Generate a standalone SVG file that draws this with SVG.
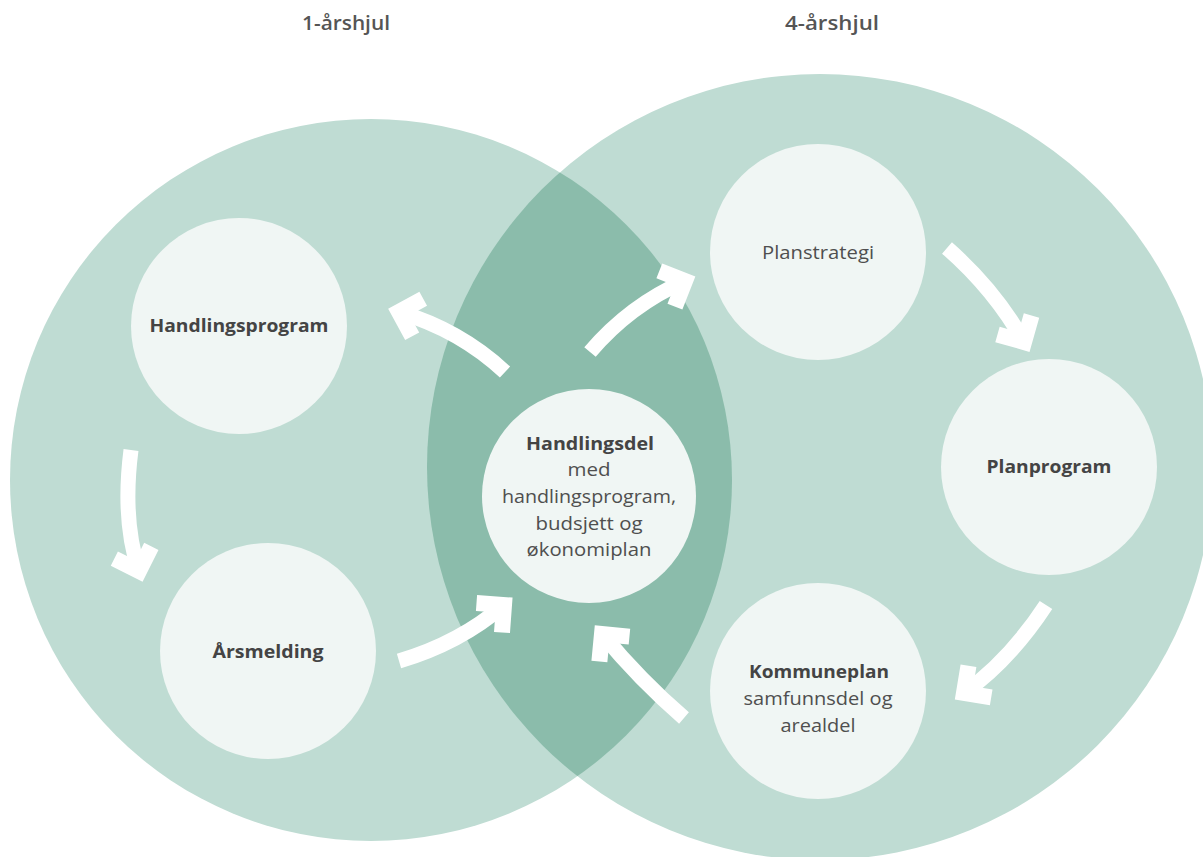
<svg xmlns="http://www.w3.org/2000/svg" width="1203" height="857" viewBox="0 0 1203 857">
<style>
.big{fill:#bfdcd3}
.lens{fill:#8bbcab}
.node{fill:#f0f6f4}
text{font-family:"Open Sans","Noto Sans","Liberation Sans",sans-serif;font-size:18px;fill:#4f4f4f;text-anchor:middle}
.b{font-weight:700;fill:#444}
.title{font-size:19px;font-weight:600;fill:#555}
.arr{fill:none;stroke:#fff;stroke-width:15;stroke-linecap:butt;marker-end:url(#ah)}
</style>
<defs>
<marker id="ah" markerUnits="userSpaceOnUse" orient="auto" markerWidth="80" markerHeight="80" viewBox="-40 -40 80 80" refX="0" refY="0" overflow="visible">
<polyline points="-19.5,-19.5 0,0 -19.5,19.5" fill="none" stroke="#fff" stroke-width="16" stroke-linejoin="miter"/>
</marker>
<clipPath id="clipL"><circle cx="371" cy="480" r="361"/></clipPath>
</defs>
<rect width="1203" height="857" fill="#fff"/>
<g id="wheel1"><circle class="big" cx="371" cy="480" r="361"/></g>
<g id="wheel4"><circle class="big" cx="820" cy="467" r="393"/></g>
<g id="overlap"><circle class="lens" cx="820" cy="467" r="393" clip-path="url(#clipL)"/></g>
<text class="title" x="346" y="30" textLength="88" lengthAdjust="spacingAndGlyphs">1-årshjul</text>
<text class="title" x="832" y="30" textLength="94" lengthAdjust="spacingAndGlyphs">4-årshjul</text>
<g id="connectors">
<path class="arr" d="M505,372 Q460,330 399,312"/>
<path class="arr" d="M590,352 Q630,305 685,281"/>
<path class="arr" d="M947,248 Q995,290 1024,342"/>
<path class="arr" d="M1046,605 Q1010,660 964,693"/>
<path class="arr" d="M684,718 Q640,680 602,634"/>
<path class="arr" d="M399,661 Q460,643 504,605"/>
<path class="arr" d="M131,450 Q122,520 139,571"/>
</g>
<g id="handlingsprogram"><circle class="node" cx="239" cy="326" r="108"/><text class="b" x="239" y="332" textLength="179" lengthAdjust="spacingAndGlyphs">Handlingsprogram</text></g>
<g id="arsmelding"><circle class="node" cx="268" cy="651" r="108"/><text class="b" x="268" y="658" textLength="111" lengthAdjust="spacingAndGlyphs">Årsmelding</text></g>
<g id="handlingsdel"><circle class="node" cx="589" cy="496" r="107"/>
<text class="b" x="590" y="450" textLength="128" lengthAdjust="spacingAndGlyphs">Handlingsdel</text>
<text x="589" y="476" textLength="43" lengthAdjust="spacingAndGlyphs">med</text>
<text x="589" y="503" textLength="174" lengthAdjust="spacingAndGlyphs">handlingsprogram,</text>
<text x="589" y="530" textLength="107" lengthAdjust="spacingAndGlyphs">budsjett og</text>
<text x="589" y="556" textLength="125" lengthAdjust="spacingAndGlyphs">økonomiplan</text></g>
<g id="planstrategi"><circle class="node" cx="818" cy="252" r="108"/><text x="818" y="259" textLength="112" lengthAdjust="spacingAndGlyphs">Planstrategi</text></g>
<g id="planprogram"><circle class="node" cx="1049" cy="467" r="108"/><text class="b" x="1049" y="473" textLength="125" lengthAdjust="spacingAndGlyphs">Planprogram</text></g>
<g id="kommuneplan"><circle class="node" cx="818" cy="691" r="108"/>
<text class="b" x="819" y="678" textLength="140" lengthAdjust="spacingAndGlyphs">Kommuneplan</text>
<text x="818" y="705" textLength="149" lengthAdjust="spacingAndGlyphs">samfunnsdel og</text>
<text x="818" y="732" textLength="75" lengthAdjust="spacingAndGlyphs">arealdel</text></g>
</svg>
